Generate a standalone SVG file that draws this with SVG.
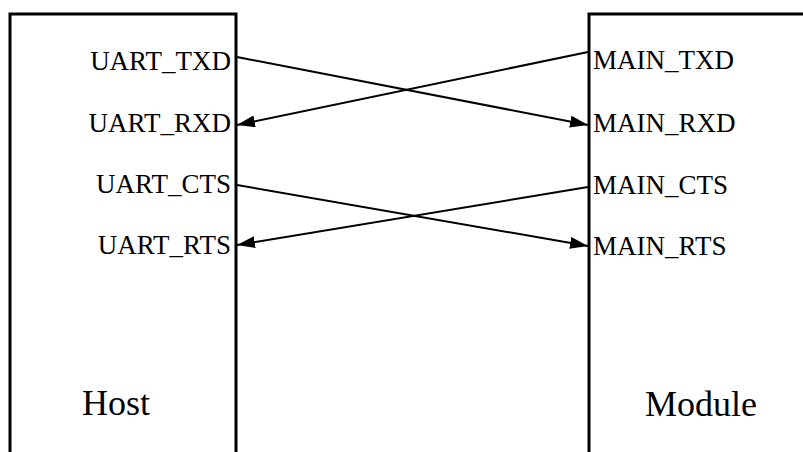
<svg xmlns="http://www.w3.org/2000/svg" width="803" height="452" viewBox="0 0 803 452">
<style>
.box{fill:none;stroke:#000;stroke-width:3}
.lbl{font-family:"Liberation Serif","Times New Roman",serif;font-size:27px;fill:#000}
.big{font-family:"Liberation Serif","Times New Roman",serif;font-size:36px;fill:#000}
.wire{stroke:#000;stroke-width:2;fill:none}
</style>
<defs>
<marker id="arr" markerUnits="userSpaceOnUse" markerWidth="20" markerHeight="12" refX="18" refY="6" orient="auto">
<path d="M0,0 L18,6 L0,12 Z" fill="#000"/>
</marker>
</defs>
<rect width="803" height="452" fill="#fff"/>
<g id="host">
<path class="box" d="M10,455 V14 H236 V455"/>
<text class="lbl" x="231" y="70" text-anchor="end">UART_TXD</text>
<text class="lbl" x="231" y="132" text-anchor="end">UART_RXD</text>
<text class="lbl" x="231" y="193" text-anchor="end">UART_CTS</text>
<text class="lbl" x="231" y="254" text-anchor="end">UART_RTS</text>
<text class="big" x="82" y="415">Host</text>
</g>
<g id="module">
<path class="box" d="M589,455 V14 H806"/>
<text class="lbl" x="593" y="69">MAIN_TXD</text>
<text class="lbl" x="593" y="132">MAIN_RXD</text>
<text class="lbl" x="593" y="194">MAIN_CTS</text>
<text class="lbl" x="593" y="255">MAIN_RTS</text>
<text class="big" x="645" y="416">Module</text>
</g>
<g id="connectors">
<line class="wire" x1="237" y1="57" x2="588" y2="125" marker-end="url(#arr)"/>
<line class="wire" x1="588" y1="52" x2="237" y2="125" marker-end="url(#arr)"/>
<line class="wire" x1="237" y1="185" x2="588" y2="246" marker-end="url(#arr)"/>
<line class="wire" x1="588" y1="187" x2="237" y2="245" marker-end="url(#arr)"/>
</g>
</svg>
